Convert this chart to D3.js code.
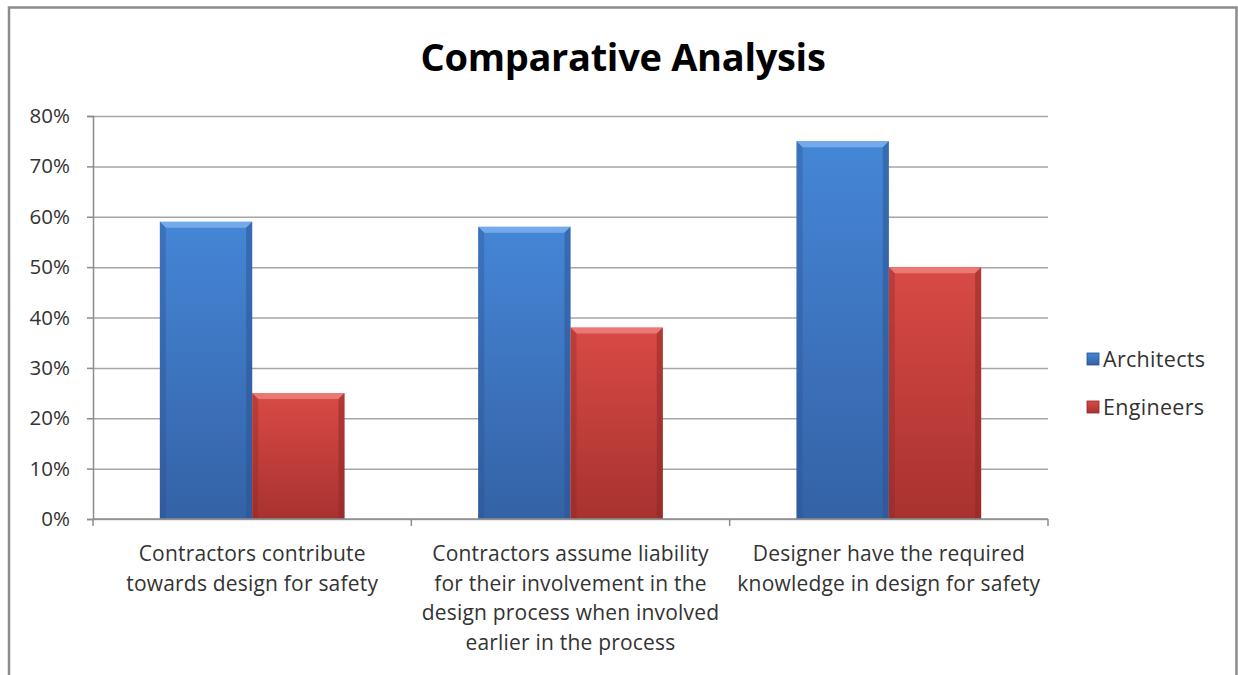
<!DOCTYPE html>
<html>
<head>
<meta charset="utf-8">
<script src="https://cdn.jsdelivr.net/npm/d3@7.9.0/dist/d3.min.js"></script>
<style>
  html, body { margin: 0; padding: 0; background: #fff; }
  svg { display: block; font-family: "Open Sans", sans-serif; }
</style>
</head>
<body>
<div id="chart"></div>
<script>
const categories = [
  "Contractors contribute towards design for safety",
  "Contractors assume liability for their involvement in the design process when involved earlier in the process",
  "Designer have the required knowledge in design for safety"
];
const categoryLines = [
  ["Contractors contribute", "towards design for safety"],
  ["Contractors assume liability", "for their involvement in the", "design process when involved", "earlier in the process"],
  ["Designer have the required", "knowledge in design for safety"]
];
const seriesNames = ["Architects", "Engineers"];
const architects = [0.59, 0.58, 0.75];
const engineers = [0.25, 0.38, 0.50];
const yTicks = [0, 0.1, 0.2, 0.3, 0.4, 0.5, 0.6, 0.7, 0.8];

const width = 1238;
const height = 675;
const margin = { top: 116, right: 190, bottom: 156, left: 93 };
const font = '"Open Sans", sans-serif';

const svg = d3.select('#chart')
  .append('svg')
  .attr('width', width)
  .attr('height', height);

// gradients
const defs = svg.append('defs');
const palette = {
  Architects: { top: '#4586d6', bottom: '#3462a6', light: '#7fb3ee', dark: '#2a5190' },
  Engineers: { top: '#d94a45', bottom: '#a8322f', light: '#ee8580', dark: '#8a2826' }
};
seriesNames.forEach((s) => {
  const g = defs.append('linearGradient')
    .attr('id', 'grad-' + s).attr('x1', 0).attr('y1', 0).attr('x2', 0).attr('y2', 1);
  g.append('stop').attr('offset', '0%').attr('stop-color', palette[s].top);
  g.append('stop').attr('offset', '100%').attr('stop-color', palette[s].bottom);
});

// chart frame
svg.append('path')
  .attr('d', `M9,${height + 5} L9,7.5 L1236.5,7.5 L1236.5,${height + 5}`)
  .attr('fill', 'none')
  .attr('stroke', '#8c8c8c')
  .attr('stroke-width', 2.5);

svg.append('text')
  .attr('x', 623)
  .attr('y', 71)
  .attr('text-anchor', 'middle')
  .attr('font-size', 38)
  .attr('font-weight', 'bold')
  .attr('fill', '#000')
  .attr('letter-spacing', -0.3)
  .text('Comparative Analysis');

const y = d3.scaleLinear()
  .domain([0, 0.8])
  .range([height - margin.bottom, margin.top]);

const x0 = d3.scaleBand()
  .domain(categories)
  .range([margin.left, width - margin.right])
  .padding(0);

const gap = x0.bandwidth() * 0.21;
const x1 = d3.scaleBand()
  .domain(seriesNames)
  .range([gap, x0.bandwidth() - gap])
  .padding(0);

// gridlines
svg.append('g')
  .attr('transform', `translate(${margin.left},0)`)
  .call(d3.axisLeft(y).tickValues(yTicks).tickSize(-(width - margin.left - margin.right)).tickFormat(''))
  .call((g) => g.select('.domain').remove())
  .call((g) => g.selectAll('line').attr('stroke', '#a6a6a6').attr('stroke-width', 1.5));

// y axis
svg.append('g')
  .attr('transform', `translate(${margin.left},0)`)
  .call(d3.axisLeft(y).tickValues(yTicks).tickSize(6).tickPadding(17).tickFormat(d3.format('.0%')))
  .call((g) => g.select('.domain').attr('stroke', '#8c8c8c').attr('stroke-width', 1.5))
  .call((g) => g.selectAll('line').attr('stroke', '#8c8c8c').attr('stroke-width', 1.5))
  .call((g) => g.selectAll('text').attr('font-size', 20.5).attr('fill', '#333').attr('font-family', font));

// bars
const data = categories.map((c, i) => ({ cat: c, values: [
  { s: 'Architects', v: architects[i] },
  { s: 'Engineers', v: engineers[i] }
] }));

const bars = svg.append('g').selectAll('g')
  .data(data)
  .join('g')
  .attr('transform', (d) => `translate(${x0(d.cat)},0)`)
  .selectAll('g')
  .data((d) => d.values)
  .join('g');

const bev = 6;
bars.append('rect')
  .attr('x', (d) => x1(d.s))
  .attr('y', (d) => y(d.v))
  .attr('width', x1.bandwidth())
  .attr('height', (d) => y(0) - y(d.v))
  .attr('fill', (d) => `url(#grad-${d.s})`);

// top bevel (light)
bars.append('path')
  .attr('d', (d) => {
    const l = x1(d.s), r = l + x1.bandwidth(), t = y(d.v);
    return `M${l},${t} L${r},${t} L${r - bev},${t + bev} L${l + bev},${t + bev} Z`;
  })
  .attr('fill', (d) => palette[d.s].light)
  .attr('opacity', 0.8);

// side bevels (dark)
bars.append('path')
  .attr('d', (d) => {
    const l = x1(d.s), t = y(d.v), b = y(0);
    return `M${l},${t} L${l + bev},${t + bev} L${l + bev},${b} L${l},${b} Z`;
  })
  .attr('fill', (d) => palette[d.s].dark)
  .attr('opacity', 0.35);

bars.append('path')
  .attr('d', (d) => {
    const r = x1(d.s) + x1.bandwidth(), t = y(d.v), b = y(0);
    return `M${r},${t} L${r - bev},${t + bev} L${r - bev},${b} L${r},${b} Z`;
  })
  .attr('fill', (d) => palette[d.s].dark)
  .attr('opacity', 0.5);

// x axis
const xAxis = svg.append('g')
  .attr('transform', `translate(0,${y(0)})`);
xAxis.append('line')
  .attr('x1', margin.left).attr('x2', width - margin.right)
  .attr('stroke', '#8c8c8c').attr('stroke-width', 1.5);
const bounds = categories.map((c) => x0(c)).concat([x0(categories[categories.length - 1]) + x0.bandwidth()]);
xAxis.selectAll('.tick')
  .data(bounds)
  .join('line')
  .attr('x1', (d) => d).attr('x2', (d) => d)
  .attr('y1', 0).attr('y2', 7)
  .attr('stroke', '#8c8c8c').attr('stroke-width', 1.5);

xAxis.selectAll('.label')
  .data(categories)
  .join('text')
  .attr('text-anchor', 'middle')
  .attr('font-size', 21)
  .attr('letter-spacing', 0.2)
  .attr('fill', '#333')
  .attr('transform', (d) => `translate(${x0(d) + x0.bandwidth() / 2},0)`)
  .selectAll('tspan')
  .data((d, i) => categoryLines[i])
  .join('tspan')
  .attr('x', 0)
  .attr('y', (d, i) => 42 + i * 29.6)
  .text((d) => d);

// legend
const legend = svg.append('g')
  .attr('transform', 'translate(1087,353)');
const li = legend.selectAll('g')
  .data(seriesNames)
  .join('g')
  .attr('transform', (d, i) => `translate(0,${i * 48})`);
li.append('rect')
  .attr('width', 12).attr('height', 12)
  .attr('fill', (d) => `url(#grad-${d})`)
  .attr('stroke', (d) => palette[d].dark)
  .attr('stroke-width', 0.8);
li.append('text')
  .attr('x', 16)
  .attr('y', 14)
  .attr('font-size', 21.5)
  .attr('letter-spacing', 0.3)
  .attr('fill', '#333')
  .text((d) => d);
</script>
</body>
</html>
